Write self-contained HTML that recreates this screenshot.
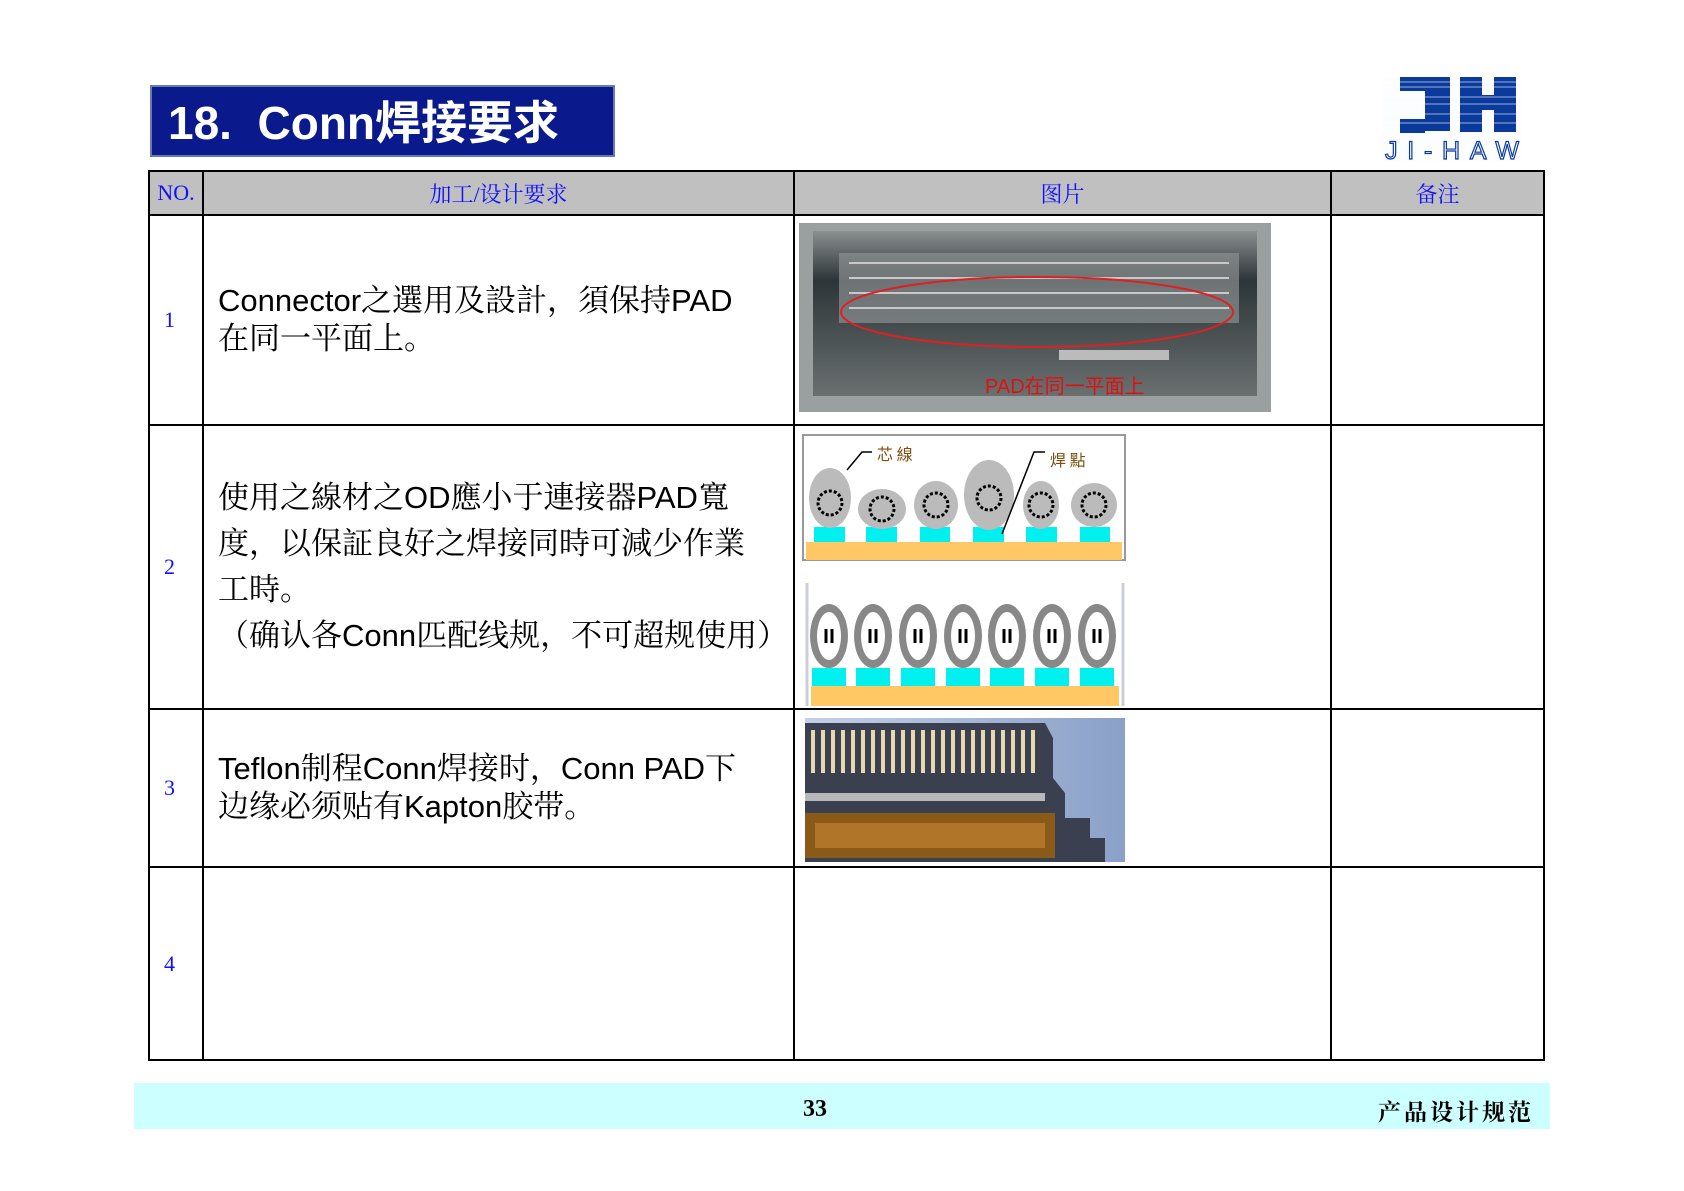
<!DOCTYPE html>
<html><head><meta charset="utf-8"><style>
body{margin:0;width:1684px;height:1191px;background:#fff;position:relative;overflow:hidden;font-family:"Liberation Sans","Noto Sans CJK SC",sans-serif}
.a{position:absolute}
.title{left:150px;top:85px;width:465px;height:72px;background:#0a1a8c;color:#fff;font-weight:bold;font-size:46px;line-height:72px;padding-left:16px;box-sizing:border-box;border:2px solid #6a7ab0}
table{position:absolute;left:148px;top:170px;width:1395px;border-collapse:collapse;table-layout:fixed}
td{border:2.5px solid #000;padding:0;vertical-align:middle;overflow:visible}
th{border:2.5px solid #000;background:#c0c0c0;color:#1010ff;font-family:"Liberation Serif","Noto Serif CJK SC",serif;font-weight:normal;font-size:22px;height:40px}
.n{color:#1010ff;font-family:"Liberation Serif",serif;font-size:22px;padding-left:14px}
.t{font-size:31px;color:#000;padding-left:14px;line-height:38px;font-family:"Liberation Sans","Noto Serif CJK SC",serif;white-space:nowrap}
.foot{left:134px;top:1083px;width:1416px;height:46px;background:#ccffff}
</style></head><body>
<div class="a title">18.&nbsp; Conn焊接要求</div>
<svg class="a" style="left:1383px;top:77px" width="138" height="84" viewBox="0 0 138 84">
<rect width="138" height="84" fill="#fbfdff"/>
<g fill="#0a3a9c"><rect x="17" y="0" width="50" height="14"/><rect x="42" y="14" width="25" height="40"/><polygon points="17,42 42,42 42,56 17,56"/><rect x="77" y="0" width="22" height="55"/><rect x="99" y="18" width="12" height="15"/><rect x="111" y="0" width="22" height="55"/></g>
<g stroke="#fff" stroke-width="1" opacity=".6"><line x1="0" y1="5" x2="138" y2="5"/><line x1="0" y1="10" x2="138" y2="10"/><line x1="0" y1="20" x2="138" y2="20"/><line x1="0" y1="27" x2="138" y2="27"/><line x1="0" y1="37" x2="138" y2="37"/><line x1="0" y1="46" x2="138" y2="46"/></g>
<text x="69" y="82" text-anchor="middle" font-family="Liberation Sans" font-size="25" fill="#fff" stroke="#0a3a9c" stroke-width="1.2" textLength="134">JI-HAW</text>
</svg>
<table>
<colgroup><col style="width:54px"><col style="width:591px"><col style="width:537px"><col style="width:213px"></colgroup>
<tr><th>NO.</th><th>加工/设计要求</th><th>图片</th><th>备注</th></tr>
<tr style="height:210px"><td class="n">1</td><td class="t">Connector之選用及設計，須保持PAD<br>在同一平面上。</td><td></td><td></td></tr>
<tr style="height:284px"><td class="n">2</td><td class="t" style="line-height:46px">使用之線材之OD應小于連接器PAD寬<br>度，以保証良好之焊接同時可減少作業<br>工時。<br>（确认各Conn匹配线规，不可超规使用）</td><td></td><td></td></tr>
<tr style="height:158px"><td class="n">3</td><td class="t">Teflon制程Conn焊接时，Conn PAD下<br>边缘必须贴有Kapton胶带。</td><td></td><td></td></tr>
<tr style="height:193px"><td class="n">4</td><td></td><td></td><td></td></tr>
</table>
<svg class="a" style="left:799px;top:223px" width="472" height="189">
<defs><linearGradient id="g1" x1="0" y1="0" x2="0" y2="1"><stop offset="0" stop-color="#8a9090"/><stop offset=".3" stop-color="#2e3538"/><stop offset="1" stop-color="#6a7070"/></linearGradient></defs>
<rect width="472" height="189" fill="#9aa0a0"/><rect x="14" y="8" width="444" height="165" fill="url(#g1)"/>
<rect x="40" y="30" width="400" height="70" fill="#8a8f90" opacity=".7"/>
<g stroke="#c8c8c8" stroke-width="2"><line x1="50" y1="40" x2="430" y2="40"/><line x1="50" y1="55" x2="430" y2="55"/><line x1="50" y1="70" x2="430" y2="70"/><line x1="50" y1="85" x2="430" y2="85"/></g>
<ellipse cx="238" cy="89" rx="196" ry="35" fill="none" stroke="#e02020" stroke-width="2"/>
<rect x="260" y="127" width="110" height="10" fill="#bbb"/>
<text x="186" y="170" font-size="20" fill="#e01010" font-family="Liberation Sans,Noto Sans CJK SC">PAD在同一平面上</text>
</svg>
<svg class="a" style="left:802px;top:432px" width="324" height="129">
<rect x="1" y="3" width="322" height="125" fill="#fff" stroke="#999" stroke-width="2"/>
<rect x="4" y="110" width="316" height="18" fill="#ffc864"/>
<g fill="#00f0f0"><rect x="12" y="95" width="31" height="15"/><rect x="64" y="95" width="31" height="15"/><rect x="118" y="95" width="30" height="15"/><rect x="171" y="95" width="31" height="15"/><rect x="224" y="95" width="31" height="15"/><rect x="278" y="95" width="30" height="15"/></g>
<g fill="#bbb"><ellipse cx="28" cy="66" rx="21" ry="30"/><ellipse cx="80" cy="77" rx="24" ry="20"/><ellipse cx="134" cy="73" rx="22" ry="24"/><ellipse cx="187" cy="63" rx="25" ry="35"/><ellipse cx="239" cy="73" rx="18" ry="24"/><ellipse cx="292" cy="73" rx="23" ry="22"/></g>
<g fill="none" stroke="#000" stroke-width="3" stroke-dasharray="3 2"><circle cx="28" cy="71" r="12"/><circle cx="80" cy="77" r="12"/><circle cx="134" cy="73" r="12"/><circle cx="187" cy="66" r="12"/><circle cx="239" cy="73" r="12"/><circle cx="292" cy="73" r="12"/></g>
<path d="M45 38 L60 20 L70 20 M243 20 L232 20 L200 102" stroke="#000" fill="none" stroke-width="1.5"/>
<text x="75" y="28" font-size="16" fill="#7a5010" font-family="Noto Sans CJK SC">芯 線</text><text x="248" y="34" font-size="16" fill="#7a5010" font-family="Noto Sans CJK SC">焊 點</text>
</svg>
<svg class="a" style="left:805px;top:583px" width="321" height="123">
<rect x="0" y="0" width="321" height="123" fill="#fff"/><line x1="2" y1="0" x2="2" y2="123" stroke="#ccd" stroke-width="3"/><line x1="318" y1="0" x2="318" y2="123" stroke="#ccd" stroke-width="3"/>
<rect x="6" y="103" width="308" height="20" fill="#ffc864"/>
<g fill="#00f0f0"><rect x="7" y="85" width="34" height="18"/><rect x="51" y="85" width="34" height="18"/><rect x="96" y="85" width="34" height="18"/><rect x="141" y="85" width="34" height="18"/><rect x="185" y="85" width="34" height="18"/><rect x="230" y="85" width="34" height="18"/><rect x="275" y="85" width="34" height="18"/></g>
<g fill="#888"><ellipse cx="24" cy="53" rx="19" ry="32"/><ellipse cx="68" cy="53" rx="19" ry="32"/><ellipse cx="113" cy="53" rx="19" ry="32"/><ellipse cx="158" cy="53" rx="19" ry="32"/><ellipse cx="202" cy="53" rx="19" ry="32"/><ellipse cx="247" cy="53" rx="19" ry="32"/><ellipse cx="292" cy="53" rx="19" ry="32"/></g>
<g fill="#fff"><ellipse cx="24" cy="53" rx="12" ry="24"/><ellipse cx="68" cy="53" rx="12" ry="24"/><ellipse cx="113" cy="53" rx="12" ry="24"/><ellipse cx="158" cy="53" rx="12" ry="24"/><ellipse cx="202" cy="53" rx="12" ry="24"/><ellipse cx="247" cy="53" rx="12" ry="24"/><ellipse cx="292" cy="53" rx="12" ry="24"/></g>
<g stroke="#000" stroke-width="3"><line x1="21" y1="46" x2="21" y2="60"/><line x1="27" y1="46" x2="27" y2="60"/><line x1="65" y1="46" x2="65" y2="60"/><line x1="71" y1="46" x2="71" y2="60"/><line x1="110" y1="46" x2="110" y2="60"/><line x1="116" y1="46" x2="116" y2="60"/><line x1="155" y1="46" x2="155" y2="60"/><line x1="161" y1="46" x2="161" y2="60"/><line x1="199" y1="46" x2="199" y2="60"/><line x1="205" y1="46" x2="205" y2="60"/><line x1="244" y1="46" x2="244" y2="60"/><line x1="250" y1="46" x2="250" y2="60"/><line x1="289" y1="46" x2="289" y2="60"/><line x1="295" y1="46" x2="295" y2="60"/></g>
</svg>
<svg class="a" style="left:805px;top:718px" width="320" height="144">
<defs><linearGradient id="g3" x1="0" y1="0" x2="1" y2="0"><stop offset="0" stop-color="#c4d0e6"/><stop offset="1" stop-color="#8aa0c8"/></linearGradient></defs>
<rect width="320" height="144" fill="url(#g3)"/>
<polygon points="0,5 240,5 248,20 248,60 260,75 260,100 285,100 285,120 300,120 300,144 0,144" fill="#3a4050"/>
<g stroke="#e8d8b0" stroke-width="4"><line x1="8" y1="12" x2="8" y2="55"/><line x1="18" y1="12" x2="18" y2="55"/><line x1="28" y1="12" x2="28" y2="55"/><line x1="38" y1="12" x2="38" y2="55"/><line x1="48" y1="12" x2="48" y2="55"/><line x1="58" y1="12" x2="58" y2="55"/><line x1="68" y1="12" x2="68" y2="55"/><line x1="78" y1="12" x2="78" y2="55"/><line x1="88" y1="12" x2="88" y2="55"/><line x1="98" y1="12" x2="98" y2="55"/><line x1="108" y1="12" x2="108" y2="55"/><line x1="118" y1="12" x2="118" y2="55"/><line x1="128" y1="12" x2="128" y2="55"/><line x1="138" y1="12" x2="138" y2="55"/><line x1="148" y1="12" x2="148" y2="55"/><line x1="158" y1="12" x2="158" y2="55"/><line x1="168" y1="12" x2="168" y2="55"/><line x1="178" y1="12" x2="178" y2="55"/><line x1="188" y1="12" x2="188" y2="55"/><line x1="198" y1="12" x2="198" y2="55"/><line x1="208" y1="12" x2="208" y2="55"/><line x1="218" y1="12" x2="218" y2="55"/><line x1="228" y1="12" x2="228" y2="55"/></g>
<rect x="0" y="75" width="240" height="8" fill="#b8b8b8"/>
<rect x="0" y="95" width="250" height="45" fill="#8a5a18"/><rect x="10" y="105" width="230" height="25" fill="#c08030" opacity=".7"/>
</svg>
<div class="a foot"></div>
<div class="a" style="left:780px;top:1096px;width:70px;text-align:center;font-family:'Liberation Serif',serif;font-weight:bold;font-size:24px">33</div>
<div class="a" style="left:1360px;top:1094px;width:174px;text-align:right;font-family:'Noto Serif CJK SC',serif;font-weight:bold;font-size:23px;letter-spacing:3px">产品设计规范</div>
</body></html>
